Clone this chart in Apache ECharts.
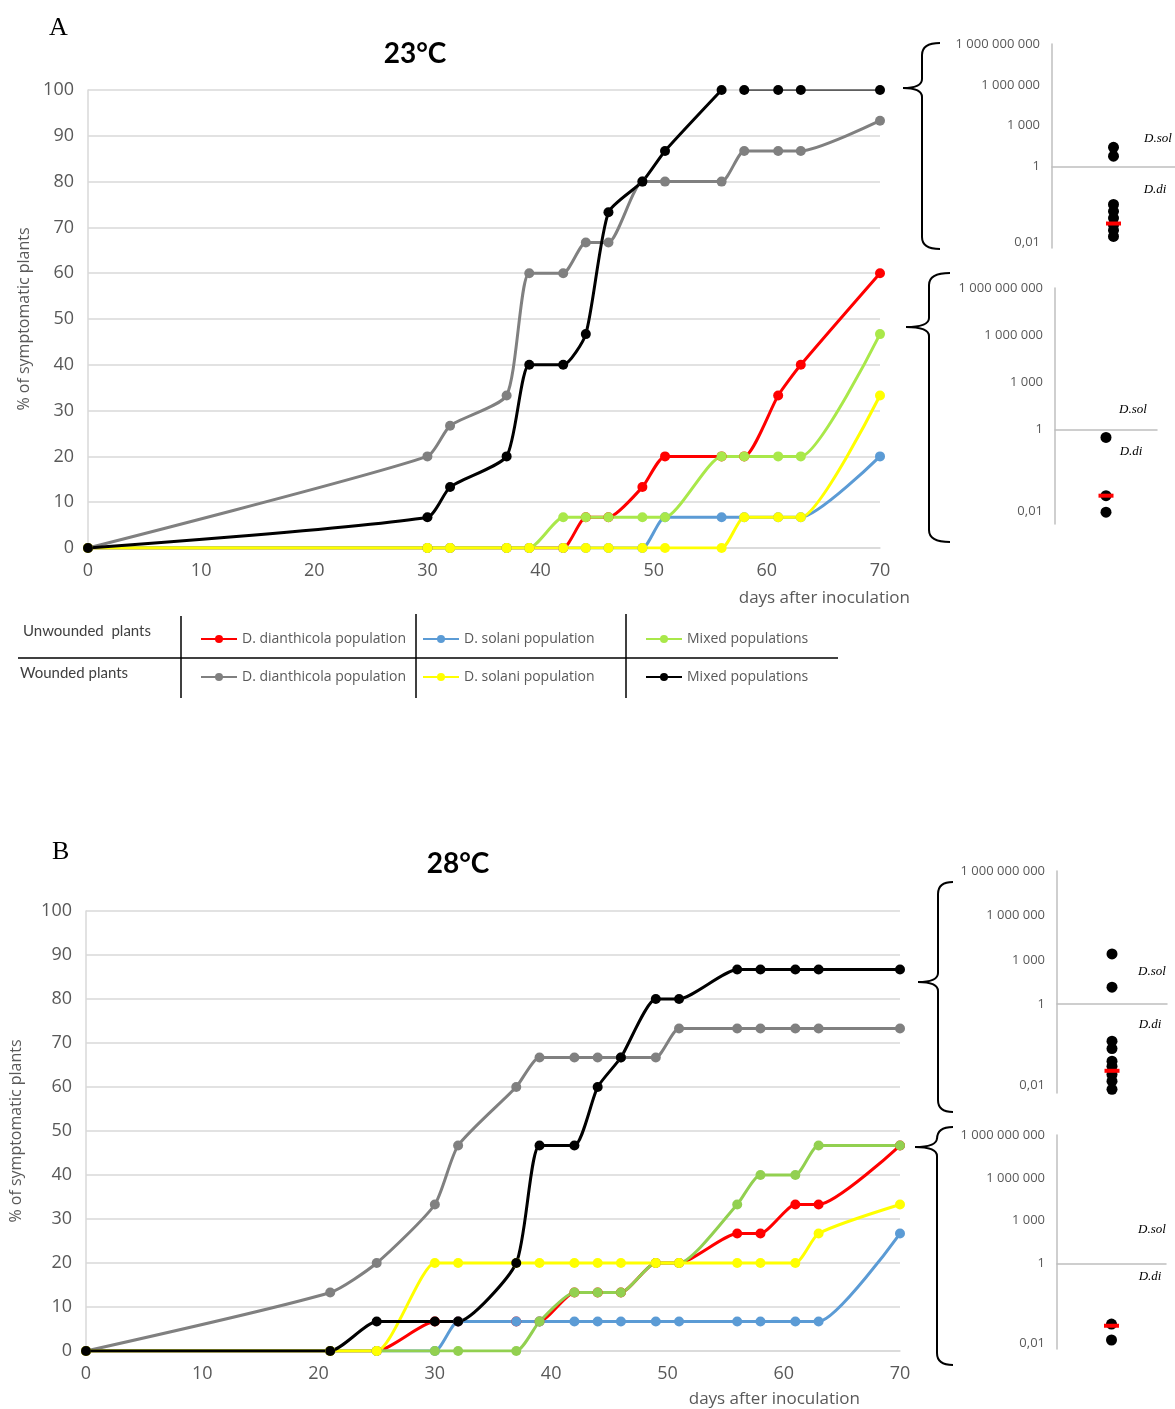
<!DOCTYPE html>
<html>
<head>
<meta charset="utf-8">
<script src="https://cdn.jsdelivr.net/npm/echarts@6/dist/echarts.min.js"></script>
<style>
  html, body { margin: 0; padding: 0; background: #fff; }
  #main { width: 1175px; height: 1409px; }
</style>
</head>
<body>
<div id="main"></div>
<script>
// ---- Disease progress at 23 °C (panel A) ----
const daysA = [0, 30, 32, 37, 39, 42, 44, 46, 49, 51, 56, 58, 61, 63, 70];
const unwoundedDdiA   = [0, 0, 0, 0, 0, 0, 6.7, 6.7, 13.3, 20, 20, 20, 33.3, 40, 60];
const unwoundedDsolA  = [0, 0, 0, 0, 0, 0, 0, 0, 0, 6.7, 6.7, 6.7, 6.7, 6.7, 20];
const unwoundedMixA   = [0, 0, 0, 0, 0, 6.7, 6.7, 6.7, 6.7, 6.7, 20, 20, 20, 20, 46.7];
const woundedDdiA     = [0, 20, 26.7, 33.3, 60, 60, 66.7, 66.7, 80, 80, 80, 86.7, 86.7, 86.7, 93.3];
const woundedDsolA    = [0, 0, 0, 0, 0, 0, 0, 0, 0, 0, 0, 6.7, 6.7, 6.7, 33.3];
const woundedMixA     = [0, 6.7, 13.3, 20, 40, 40, 46.7, 73.3, 80, 86.7, 100, 100, 100, 100, 100];
// the wounded mixed curve is broken after day 56 and continues as a thin line
const woundedMixABreak = 11;

// ---- Disease progress at 28 °C (panel B) ----
const daysB = [0, 21, 25, 30, 32, 37, 39, 42, 44, 46, 49, 51, 56, 58, 61, 63, 70];
const unwoundedDdiB   = [0, 0, 0, 6.7, 6.7, 6.7, 6.7, 13.3, 13.3, 13.3, 20, 20, 26.7, 26.7, 33.3, 33.3, 46.7];
const unwoundedDsolB  = [0, 0, 0, 0, 6.7, 6.7, 6.7, 6.7, 6.7, 6.7, 6.7, 6.7, 6.7, 6.7, 6.7, 6.7, 26.7];
const unwoundedMixB   = [0, 0, 0, 0, 0, 0, 6.7, 13.3, 13.3, 13.3, 20, 20, 33.3, 40, 40, 46.7, 46.7];
const woundedDdiB     = [0, 13.3, 20, 33.3, 46.7, 60, 66.7, 66.7, 66.7, 66.7, 66.7, 73.3, 73.3, 73.3, 73.3, 73.3, 73.3];
const woundedDsolB    = [0, 0, 0, 20, 20, 20, 20, 20, 20, 20, 20, 20, 20, 20, 20, 26.7, 33.3];
const woundedMixB     = [0, 0, 6.7, 6.7, 6.7, 20, 46.7, 46.7, 60, 66.7, 80, 80, 86.7, 86.7, 86.7, 86.7, 86.7];

// ---- Axis ticks ----
const dayTicks = [0, 10, 20, 30, 40, 50, 60, 70];
const percentTicks = [0, 10, 20, 30, 40, 50, 60, 70, 80, 90, 100];

// ---- Population ratio insets (log10 scale) ----
const ratioTickValues = [9, 6, 3, 0];
const ratioTickLabels = ['1 000 000 000', '1 000 000', '1 000', '1'];
const ratioFloorLabel = '0,01';
const ratioFloorTick = [-5.6, -5.2, -5.5, -5.6];
const insetDsol   = [[1.4, 0.75], [], [3.4, 1.15], []];
const insetDdi    = [[-2.8, -3.3, -3.8, -4.3, -4.7, -5.15], [-0.5, -4.2, -5.25],
                     [-2.5, -3.0, -3.85, -4.2, -4.75, -5.2, -5.75], [-4.25, -5.37]];
const insetMedian = [[-4.2], [-4.2], [-4.5], [-4.37]];

// ---- Legend labels ----
const groupLabels = ['Unwounded  plants', 'Wounded plants'];
const populationLabels = ['D. dianthicola population', 'D. solani population', 'Mixed populations'];

const SEP = ': ';
const names = [
  groupLabels[0] + SEP + populationLabels[0],
  groupLabels[0] + SEP + populationLabels[1],
  groupLabels[0] + SEP + populationLabels[2],
  groupLabels[1] + SEP + populationLabels[0],
  groupLabels[1] + SEP + populationLabels[1],
  groupLabels[1] + SEP + populationLabels[2]
];
const colorsA = ['#ff0000', '#5b9bd5', '#a9e84a', '#808080', '#ffff00', '#000000'];
const colorsB = ['#ff0000', '#5b9bd5', '#92d050', '#808080', '#ffff00', '#000000'];

const FONT = 'Open Sans';
const LABEL_GREY = '#595959';
const GRID_GREY = '#d9d9d9';
const SMOOTH = 0.2;

function pairs(days, vals) { return days.map((d, i) => [d, vals[i]]); }

function curve(name, color, data, axis, opts) {
  opts = opts || {};
  return {
    type: 'line', name: name, xAxisIndex: axis, yAxisIndex: axis,
    data: data, smooth: opts.smooth === undefined ? SMOOTH : opts.smooth,
    symbol: 'circle', symbolSize: 10, showSymbol: true,
    lineStyle: { color: opts.lineColor || color, width: opts.width || 3 },
    itemStyle: { color: color },
    emphasis: { disabled: true }
  };
}

const seriesA = [unwoundedDdiA, unwoundedDsolA, unwoundedMixA, woundedDdiA, woundedDsolA];
const seriesB = [unwoundedDdiB, unwoundedDsolB, unwoundedMixB, woundedDdiB, woundedDsolB, woundedMixB];

const series = [];
seriesA.forEach((v, i) => series.push(curve(names[i], colorsA[i], pairs(daysA, v), 0)));
series.push(curve(names[5], colorsA[5],
  pairs(daysA.slice(0, woundedMixABreak), woundedMixA.slice(0, woundedMixABreak)), 0));
series.push(curve(names[5], colorsA[5],
  pairs(daysA.slice(woundedMixABreak), woundedMixA.slice(woundedMixABreak)), 0,
  { smooth: false, width: 1.5, lineColor: '#333333' }));
seriesB.forEach((v, i) => series.push(curve(names[i], colorsB[i], pairs(daysB, v), 1)));

// inset scatter points
for (let k = 0; k < 4; k++) {
  const ax = 2 + k;
  series.push({
    type: 'scatter', xAxisIndex: ax, yAxisIndex: ax, symbolSize: 11,
    itemStyle: { color: '#000', opacity: 1 }, emphasis: { disabled: true },
    data: insetDsol[k].concat(insetDdi[k]).map(v => [0.5, v])
  });
  series.push({
    type: 'scatter', xAxisIndex: ax, yAxisIndex: ax, symbol: 'rect', symbolSize: [15, 4],
    itemStyle: { color: '#ff0000', opacity: 1 }, emphasis: { disabled: true }, z: 3,
    data: insetMedian[k].map(v => [0.5, v])
  });
}

function mainX(idx, nameGap, namePad) {
  return {
    gridIndex: idx, type: 'value', min: dayTicks[0], max: dayTicks[dayTicks.length - 1],
    interval: dayTicks[1] - dayTicks[0],
    axisLine: { show: true, lineStyle: { color: GRID_GREY, width: 1.5 } },
    axisTick: { show: false }, splitLine: { show: false },
    axisLabel: { color: LABEL_GREY, fontSize: 18, fontFamily: FONT, margin: 14 },
    name: 'days after inoculation', nameLocation: 'end', nameGap: nameGap,
    nameTextStyle: { color: LABEL_GREY, fontSize: 17, fontFamily: FONT, align: 'right',
      verticalAlign: 'top', padding: [namePad, 0, 0, 0] }
  };
}
function mainY(idx, nameGap) {
  return {
    gridIndex: idx, type: 'value', min: percentTicks[0], max: percentTicks[percentTicks.length - 1],
    interval: percentTicks[1] - percentTicks[0],
    axisLine: { show: true, lineStyle: { color: GRID_GREY, width: 1.5 } },
    axisTick: { show: false },
    splitLine: { show: true, lineStyle: { color: GRID_GREY, width: 1.5 } },
    axisLabel: { color: LABEL_GREY, fontSize: 18, fontFamily: FONT, margin: 14 },
    name: '% of symptomatic plants', nameLocation: 'middle', nameGap: nameGap,
    nameTextStyle: { color: LABEL_GREY, fontSize: 16, fontFamily: FONT }
  };
}
function insetX(idx) {
  return {
    gridIndex: idx, type: 'value', min: 0, max: 1,
    axisLine: { show: true, onZero: true, lineStyle: { color: '#bfbfbf', width: 1.5 } },
    axisTick: { show: false }, axisLabel: { show: false }, splitLine: { show: false }
  };
}
function insetY(idx, k) {
  return {
    gridIndex: idx, type: 'value', min: -6, max: 9,
    axisLine: { show: true, lineStyle: { color: '#bfbfbf', width: 1.5 } },
    axisTick: { show: false }, splitLine: { show: false },
    axisLabel: {
      color: LABEL_GREY, fontSize: 13, fontFamily: FONT, margin: 12,
      customValues: ratioTickValues.concat([ratioFloorTick[k]]),
      formatter: v => {
        const i = ratioTickValues.indexOf(v);
        return i >= 0 ? ratioTickLabels[i] : ratioFloorLabel;
      }
    }
  };
}

// curly braces linking curve plateaus to the ratio insets
const BRACE_STYLE = { stroke: '#000', lineWidth: 2, fill: null };
function bez(x1, y1, cx, cy, x2, y2) {
  return { type: 'bezierCurve', silent: true,
    shape: { x1: x1, y1: y1, x2: x2, y2: y2, cpx1: cx, cpy1: cy },
    style: BRACE_STYLE };
}
function seg(x1, y1, x2, y2) {
  return { type: 'line', silent: true, shape: { x1: x1, y1: y1, x2: x2, y2: y2 },
    style: BRACE_STYLE };
}
function brace(xr, yt, yb, xs, xt, ym) {
  return { type: 'group', silent: true, children: [
    bez(xr, yt, xs, yt, xs, yt + 12),
    seg(xs, yt + 12, xs, ym - 9),
    bez(xs, ym - 9, xs, ym, xt, ym),
    bez(xt, ym, xs, ym, xs, ym + 9),
    seg(xs, ym + 9, xs, yb - 12),
    bez(xs, yb - 12, xs, yb, xr, yb)
  ] };
}
function hline(x1, x2, y) {
  return { type: 'line', silent: true, shape: { x1: x1, y1: y, x2: x2, y2: y },
    style: { stroke: '#000', lineWidth: 1.5 } };
}
function vline(x, y1, y2) {
  return { type: 'line', silent: true, shape: { x1: x, y1: y1, x2: x, y2: y2 },
    style: { stroke: '#000', lineWidth: 1.5 } };
}
function txt(x, y, text, style) {
  return { type: 'text', silent: true, x: x, y: y,
    style: Object.assign({ text: text, verticalAlign: 'middle' }, style) };
}
const speciesStyle = { font: 'italic 13px "Liberation Serif"', fill: '#000', align: 'center' };
const groupStyle = { font: '15px Lato', fill: '#404040', align: 'left' };

function legendAt(left, top, name) {
  return {
    left: left, top: top, data: [name], itemWidth: 36, itemHeight: 10, itemGap: 0,
    selectedMode: false,
    formatter: n => n.split(SEP)[1],
    textStyle: { color: LABEL_GREY, fontSize: 14, fontFamily: FONT }
  };
}

const option = {
  animation: false,
  backgroundColor: '#fff',
  title: [
    { text: 'A', left: 44, top: 10, textStyle: { fontFamily: 'Liberation Serif', fontSize: 26, fontWeight: 'normal', color: '#000' } },
    { text: 'B', left: 47, top: 834, textStyle: { fontFamily: 'Liberation Serif', fontSize: 26, fontWeight: 'normal', color: '#000' } },
    { text: '23°C', left: 410, top: 35, textAlign: 'center', textStyle: { fontFamily: 'Lato', fontSize: 28, fontWeight: 'bold', color: '#000' } },
    { text: '28°C', left: 453, top: 845, textAlign: 'center', textStyle: { fontFamily: 'Lato', fontSize: 28, fontWeight: 'bold', color: '#000' } }
  ],
  legend: [
    legendAt(195, 627, names[0]), legendAt(417, 627, names[1]), legendAt(640, 627, names[2]),
    legendAt(195, 665, names[3]), legendAt(417, 665, names[4]), legendAt(640, 665, names[5])
  ],
  grid: [
    { left: 88, top: 90, width: 792, height: 458 },
    { left: 82, top: 911, width: 818, height: 440 },
    { left: 1052, top: 44, width: 123, height: 204 },
    { left: 1055, top: 288, width: 102, height: 236 },
    { left: 1057, top: 871, width: 110, height: 222 },
    { left: 1057, top: 1135, width: 109, height: 214 }
  ],
  xAxis: [mainX(0, 30, 42), mainX(1, -40, 40), insetX(2), insetX(3), insetX(4), insetX(5)],
  yAxis: [mainY(0, 56), mainY(1, 62), insetY(2, 0), insetY(3, 1), insetY(4, 2), insetY(5, 3)],
  series: series,
  graphic: [
    brace(940, 43, 249, 922, 903, 88),
    brace(950, 273, 542, 929, 906, 327),
    brace(953, 882, 1112, 938, 918, 982),
    brace(953, 1127, 1365, 937, 915, 1147),
    txt(1158, 139, 'D.sol', speciesStyle), txt(1155, 190, 'D.di', speciesStyle),
    txt(1133, 410, 'D.sol', speciesStyle), txt(1131, 452, 'D.di', speciesStyle),
    txt(1152, 972, 'D.sol', speciesStyle), txt(1150, 1025, 'D.di', speciesStyle),
    txt(1152, 1230, 'D.sol', speciesStyle), txt(1150, 1277, 'D.di', speciesStyle),
    vline(181, 616, 698), vline(416, 614, 698), vline(626, 614, 698),
    hline(18, 838, 658),
    txt(23, 631, groupLabels[0], groupStyle),
    txt(20, 673, groupLabels[1], groupStyle)
  ]
};

const chart = echarts.init(document.getElementById('main'));
chart.setOption(option);
</script>
</body>
</html>
